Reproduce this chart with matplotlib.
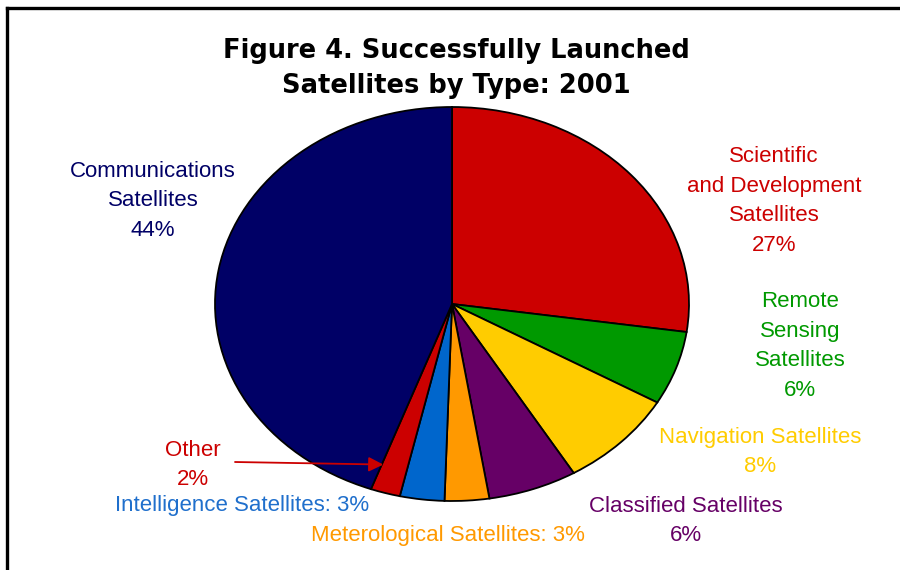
import matplotlib.pyplot as plt
from matplotlib.lines import Line2D

plt.rcParams['font.family'] = ['Liberation Sans', 'DejaVu Sans']

# data (percent of successful launches, 2001)
types = ['Scientific and Development', 'Remote Sensing', 'Navigation', 'Classified',
         'Meterological', 'Intelligence', 'Other', 'Communications']
shares = [27, 6, 8, 6, 3, 3, 2, 44]
colors = ['#CC0000', '#009900', '#FFCC00', '#660066',
          '#FF9900', '#0066CC', '#CC0000', '#000066']
label_colors = ['#CC0000', '#009900', '#FFCC00', '#660066',
                '#FF9900', '#1F6FCC', '#CC0000', '#000066']
label_texts = ['Scientific\nand Development\nSatellites\n27%',
               'Remote\nSensing\nSatellites\n6%',
               'Navigation Satellites\n8%',
               'Classified Satellites\n6%',
               'Meterological Satellites: 3%',
               'Intelligence Satellites: 3%',
               'Other\n2%',
               'Communications\nSatellites\n44%']
# label centres in pixels (x from left, y from top)
label_pos = [(774, 201), (800, 346), (760, 452), (686, 521),
             (448, 535), (242, 506), (193, 465), (153, 201)]

W, H = 900, 570
fig = plt.figure(figsize=(9, 5.7), dpi=100)

# pie is an ellipse in the original, so the axes is not square
cx, cy, rx, ry = 452, 304, 237, 197
ax = fig.add_axes([(cx - rx) / W, 1 - (cy + ry) / H, 2 * rx / W, 2 * ry / H])
ax.pie(shares, colors=colors, startangle=90, counterclock=False,
       wedgeprops=dict(edgecolor='black', linewidth=1.3))
ax.set_xlim(-1, 1)
ax.set_ylim(-1, 1)
ax.set_aspect('auto')

fig.text(456 / W, 1 - 68.5 / H, 'Figure 4. Successfully Launched\nSatellites by Type: 2001',
         ha='center', va='center', fontsize=18.5, fontweight='bold', linespacing=1.42,
         family='DejaVu Sans')

for txt, (px, py), c in zip(label_texts, label_pos, label_colors):
    fig.text(px / W, 1 - py / H, txt, ha='center', va='center', color=c,
             fontsize=16, linespacing=1.53)

# arrow pointing at the "Other" slice
ax.annotate('', xy=(-0.29, -0.815), xycoords='data',
            xytext=(235 / W, 1 - 462 / H), textcoords='figure fraction',
            arrowprops=dict(arrowstyle='-|>', color='#CC0000', lw=1.3,
                            mutation_scale=22, shrinkA=0, shrinkB=0))

# frame lines (left and top)
fig.add_artist(Line2D([7 / W, 7 / W], [0, 1 - 8 / H], color='black', lw=2.4,
                      transform=fig.transFigure, solid_capstyle='projecting'))
fig.add_artist(Line2D([7 / W, 1], [1 - 8 / H, 1 - 8 / H], color='black', lw=2.4,
                      transform=fig.transFigure, solid_capstyle='projecting'))

fig.savefig('out.png', dpi=100)
